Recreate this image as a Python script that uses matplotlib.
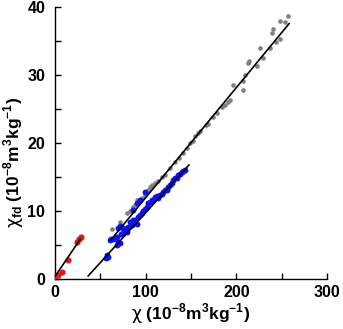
import numpy as np
import matplotlib
matplotlib.use('Agg')
import matplotlib.pyplot as plt

# susceptibility (chi) vs frequency-dependent susceptibility (chi_fd)
grey_x = [62.5, 71.7, 79, 82.7, 86.3, 88.2, 90, 95.6, 99.2, 102.9, 104.7, 106.6, 110, 114,
          117.6, 121, 126.8, 132.3, 137, 141.5, 145.2, 148.8, 152, 154.4, 158, 160, 167, 169,
          174.5, 178.3, 183.8, 187.4, 191, 193, 196.6, 207, 207.6, 209.5, 213, 214, 223, 226,
          229.7, 237, 239, 240, 244, 248, 248, 253.6, 257.3]
grey_y = [7.4, 8.4, 9.7, 10.0, 10.6, 10.9, 11.6, 12.0, 12.4, 13.1, 13.6, 13.8, 14.2, 14.5,
          15.1, 15.4, 16.3, 17.3, 17.8, 18.5, 19.3, 20.0, 20.3, 21.0, 21.5, 21.8, 22.7, 22.9,
          23.9, 24.4, 25.4, 25.6, 26.1, 26.4, 28.6, 27.8, 29.1, 30.0, 31.8, 32.1, 31.3, 34.0,
          32.5, 34.0, 36.2, 36.8, 34.9, 35.4, 38.0, 37.9, 38.7]

blue_x = [57, 58.5, 56, 60.6, 62, 64.3, 66, 68, 70, 71.7, 73, 75.3, 77, 79, 80.8, 82.7, 84.6,
          86, 88.2, 90, 91.9, 93.7, 95.6, 97.4, 99.2, 101, 102.9, 104.7, 106.6, 108.5, 110.3,
          112, 113.9, 115.7, 117.6, 119.4, 121.3, 123, 124.9, 126.8, 128.7, 130.5, 132.3, 134,
          136, 137.8, 139.7, 141.5, 143.3, 70, 72, 75, 68, 90, 93.7, 99.2, 86.3]
blue_y = [3.6, 3.3, 3.1, 5.8, 6.0, 6.0, 6.1, 6.2, 5.5, 5.3, 6.6, 6.8, 7.1, 7.0, 7.7, 8.5, 8.0,
          8.7, 8.7, 8.2, 9.2, 9.5, 9.7, 10.1, 10.4, 10.6, 11.2, 11.3, 11.7, 11.6, 12.1,
          12.2, 11.9, 12.4, 12.6, 12.8, 13.1, 13.2, 13.6, 13.9, 14.1, 14.6, 14.9, 14.9,
          15.3, 15.5, 15.8, 15.9, 16.1, 7.5, 7.9, 7.6, 5.0, 11.2, 11.7, 12.9, 10.2]

red_x = [0, 3.6, 7.4, 14.7, 23.9, 26.8, 28.5]
red_y = [0.5, 0.6, 1.1, 2.9, 5.5, 6.0, 6.2]

# linear fits: slope, intercept, x start, x end
fit_grey = [0.162, -4.2, 61.7, 258]
fit_blue = [0.147, -4.9, 36.7, 147.7]
fit_red = [0.197, 0.4, 0, 28]

plt.rcParams['font.family'] = 'Liberation Sans'
plt.rcParams['font.weight'] = 'bold'
plt.rcParams['mathtext.fontset'] = 'custom'
plt.rcParams['mathtext.rm'] = 'Liberation Sans:bold'
plt.rcParams['mathtext.it'] = 'DejaVu Sans:normal'

fig = plt.figure(figsize=(3.43, 3.29), dpi=100)
ax = fig.add_axes([0.160, 0.151, 0.794, 0.827])

ax.scatter(grey_x, grey_y, s=11, color='#808080', lw=0, zorder=2)
ax.scatter(blue_x, blue_y, s=18, color='#1010f5', lw=0, zorder=3)
ax.scatter(red_x, red_y, s=20, color='#e01818', lw=0, zorder=3)

for slope, icpt, x0, x1 in [fit_grey, fit_blue, fit_red]:
    xs = np.array([x0, x1])
    ax.plot(xs, slope * xs + icpt, color='black', lw=1.2, zorder=4)

ax.set_xlim(0, 300)
ax.set_ylim(0, 40)
ax.set_xticks([0, 100, 200, 300])
ax.set_xticks([50, 150, 250], minor=True)
ax.set_yticks([0, 10, 20, 30, 40])
ax.set_yticks([5, 15, 25, 35], minor=True)
ax.tick_params(which='both', direction='in', length=4, width=1)
ax.tick_params(axis='x', pad=4, labelsize=11.5)
ax.tick_params(axis='y', pad=7, labelsize=11.5)
for t in ax.get_xticklabels() + ax.get_yticklabels():
    t.set_fontweight('bold')

ax.spines['top'].set_visible(False)
ax.spines['right'].set_visible(False)
for s in ['left', 'bottom']:
    ax.spines[s].set_linewidth(1)

ax.set_xlabel(r'$\chi$ (10$^{-8}$m$^{3}$kg$^{-1}$)', fontsize=12.5, fontweight='bold', labelpad=1)
ax.set_ylabel(r'$\chi_{\mathrm{fd}}$ (10$^{-8}$m$^{3}$kg$^{-1}$)', fontsize=12.5, fontweight='bold')
ax.yaxis.set_label_coords(-0.105, 0.43)

fig.savefig('out.png', dpi=100)
